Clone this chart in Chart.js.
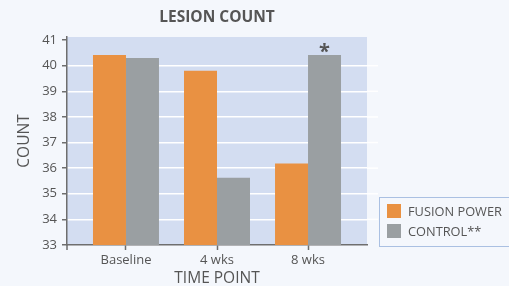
<!DOCTYPE html>
<html>
<head>
<meta charset="utf-8">
<script src="https://cdn.jsdelivr.net/npm/chart.js@4"></script>
<style>
    html, body { margin: 0; padding: 0; background: #f4f7fc; }
    #wrap { position: relative; width: 509px; height: 286px; overflow: hidden; }
    #legend {
        position: absolute; left: 379px; top: 197px; width: 140px; height: 50px;
        border: 1.5px solid #aac0e2; box-sizing: border-box;
        font-family: "Open Sans", sans-serif; font-size: 12.8px; color: #555;
    }
    .item { position: absolute; left: 7px; height: 14px; line-height: 14px; white-space: nowrap; }
    .sw { display: inline-block; width: 14px; height: 14px; vertical-align: top; margin-right: 7px; }
</style>
</head>
<body>
<div id="wrap">
    <canvas id="chart" width="509" height="286"></canvas>
    <div id="legend"></div>
</div>
<script>
// Lesion count data
const categories = ['Baseline', '4 wks', '8 wks'];
const fusionPower = [40.42, 39.80, 36.18];
const control = [40.30, 35.63, 40.42];
const seriesNames = ['FUSION POWER', 'CONTROL**'];
const seriesColors = ['#e99142', '#9a9fa2'];
const gridValues = [34, 35, 36, 37, 38, 39, 40];

const FONT = '"Open Sans", sans-serif';
const TEXT = '#555555';
const AXIS = '#6e6e6e';

function toPoints(values) {
    return values.map((v, i) => ({ x: i, y: v }));
}

// plot background, gridline stubs past the right edge, corner tick, significance star
const extras = {
    id: 'extras',
    beforeDraw(chart) {
        const a = chart.chartArea;
        const ctx = chart.ctx;
        ctx.save();
        ctx.fillStyle = '#d3ddf1';
        ctx.fillRect(a.left, a.top, a.right - a.left, a.bottom - a.top);
        ctx.restore();
    },
    afterDraw(chart) {
        const a = chart.chartArea;
        const ctx = chart.ctx;
        const y = chart.scales.y;
        ctx.save();
        ctx.strokeStyle = '#ffffff';
        ctx.lineWidth = 1.5;
        gridValues.forEach(v => {
            const py = y.getPixelForValue(v);
            ctx.beginPath();
            ctx.moveTo(a.right, py);
            ctx.lineTo(a.right + 11, py);
            ctx.stroke();
        });
        // y axis runs a little below the x axis
        ctx.strokeStyle = AXIS;
        ctx.beginPath();
        ctx.moveTo(a.left, a.bottom);
        ctx.lineTo(a.left, a.bottom + 5);
        ctx.stroke();
        // star over 8 wks control bar
        const bar = chart.getDatasetMeta(1).data[2];
        ctx.fillStyle = '#555555';
        ctx.font = 'bold 20px ' + FONT;
        ctx.textAlign = 'center';
        ctx.textBaseline = 'middle';
        ctx.fillText('*', bar.x, bar.y - 3);
        ctx.restore();
    }
};

const chart = new Chart(document.getElementById('chart'), {
    type: 'bar',
    data: {
        datasets: [
            { label: seriesNames[0], data: toPoints(fusionPower), backgroundColor: seriesColors[0] },
            { label: seriesNames[1], data: toPoints(control), backgroundColor: seriesColors[1] }
        ]
    },
    options: {
        responsive: false,
        animation: false,
        categoryPercentage: 0.725,
        barPercentage: 1,
        layout: { padding: { left: 0, right: 142, top: 0, bottom: 0 } },
        plugins: {
            legend: { display: false },
            tooltip: { enabled: false },
            title: {
                display: true,
                text: 'LESION COUNT',
                fullSize: false,
                color: TEXT,
                font: { family: FONT, size: 15.5, weight: 'bold', lineHeight: 1 },
                padding: { top: 9.5, bottom: 12 }
            }
        },
        scales: {
            x: {
                type: 'linear',
                offset: false,
                min: -0.648,
                max: 2.648,
                afterBuildTicks: s => { s.ticks = categories.map((c, i) => ({ value: i })); },
                afterFit: s => { s.height = 41; },
                border: { color: AXIS, width: 1.5 },
                grid: { offset: false, drawOnChartArea: false, tickColor: AXIS, tickLength: 5, tickWidth: 1.5 },
                ticks: {
                    color: TEXT,
                    padding: 2,
                    maxRotation: 0,
                    autoSkip: false,
                    font: { family: FONT, size: 13 },
                    callback: v => categories[v]
                },
                title: {
                    display: true,
                    text: 'TIME POINT',
                    color: TEXT,
                    font: { family: FONT, size: 15.5, lineHeight: 1 },
                    padding: { top: 0, bottom: 0 }
                }
            },
            y: {
                min: 33,
                max: 41.12,
                afterFit: s => { s.width = 67; },
                border: { color: AXIS, width: 1.5 },
                grid: {
                    color: ctx => (ctx.tick && gridValues.includes(ctx.tick.value)) ? '#ffffff' : 'rgba(0,0,0,0)',
                    lineWidth: 1.5,
                    tickColor: AXIS,
                    tickLength: 5,
                    tickWidth: 1.5
                },
                ticks: {
                    stepSize: 1,
                    includeBounds: false,
                    color: TEXT,
                    padding: 5,
                    font: { family: FONT, size: 13 }
                },
                title: {
                    display: true,
                    text: 'COUNT',
                    color: TEXT,
                    font: { family: FONT, size: 15.5, lineHeight: 1 },
                    padding: { top: 17, bottom: 0 }
                }
            }
        }
    },
    plugins: [extras]
});

// legend built from the datasets
const legendEl = document.getElementById('legend');
legendEl.innerHTML = seriesNames.map((name, i) => `
    <div class="item" style="top: ${6 + i * 19.5}px;"><span class="sw" style="background: ${seriesColors[i]};"></span>${name}</div>
`).join('');
</script>
</body>
</html>
